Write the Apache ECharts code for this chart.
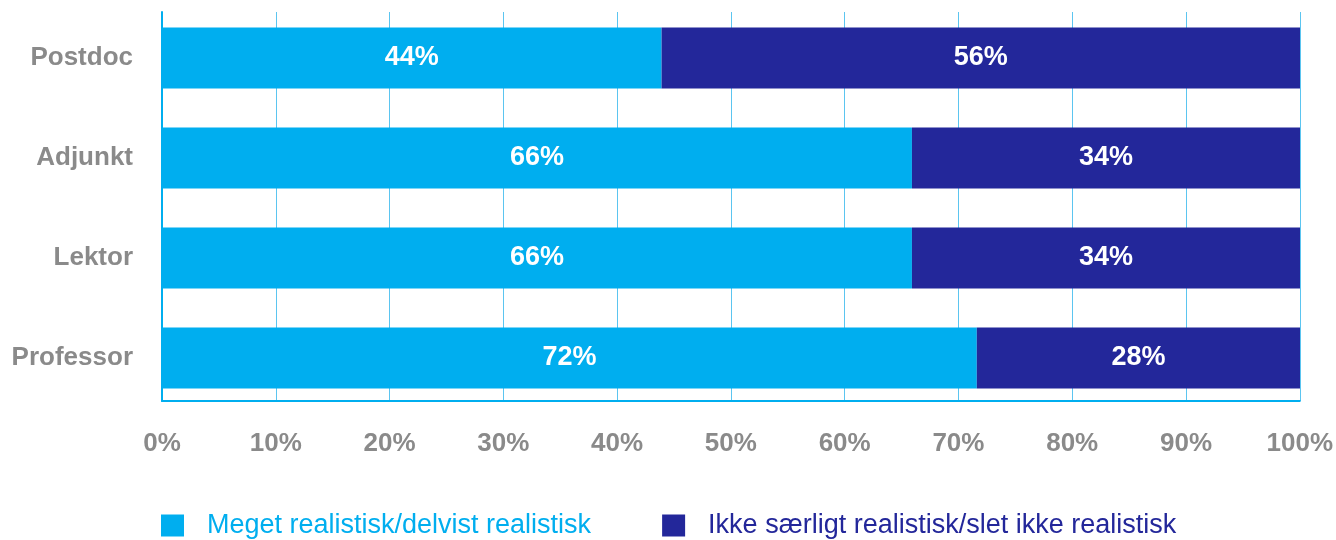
<!DOCTYPE html>
<html>
<head>
<meta charset="utf-8">
<script src="https://cdn.jsdelivr.net/npm/echarts@6/dist/echarts.min.js"></script>
<style>
  html, body { margin: 0; padding: 0; background: #fff; }
  #main { width: 1336px; height: 540px; }
</style>
</head>
<body>
<div id="main"></div>
<script>
  var categories = ['Postdoc', 'Adjunkt', 'Lektor', 'Professor'];
  var seriesNames = ['Meget realistisk/delvist realistisk', 'Ikke særligt realistisk/slet ikke realistisk'];
  var realistisk = [43.9, 65.9, 65.9, 71.6];
  var ikkeRealistisk = [56.1, 34.1, 34.1, 28.4];
  var xTicks = [0, 10, 20, 30, 40, 50, 60, 70, 80, 90, 100];

  var lightBlue = '#00aeef';
  var darkBlue = '#23279a';
  var gray = '#8a8a8a';
  var font = '"Liberation Sans", Arial, sans-serif';

  function pct(p) {
    return Math.round(p.value) + '%';
  }

  var myChart = echarts.init(document.getElementById('main'));
  var option = {
    textStyle: { fontFamily: font },
    animation: false,
    legend: {
      left: 161,
      top: 512,
      padding: 0,
      itemWidth: 23,
      itemHeight: 22,
      itemGap: 71,
      icon: 'rect',
      formatter: function (name) {
        return '{t|' + name + '}';
      },
      textStyle: {
        fontSize: 27,
        fontFamily: font,
        rich: { t: { fontSize: 27, fontFamily: font, padding: [0, 0, 0, 18] } }
      },
      data: [
        { name: seriesNames[0], textStyle: { color: lightBlue, rich: { t: { color: lightBlue } } } },
        { name: seriesNames[1], textStyle: { color: darkBlue, rich: { t: { color: darkBlue } } } }
      ]
    },
    grid: [
      // axis lines, split lines and % labels
      { left: 162, right: 36, top: 12, bottom: 139 },
      // bars
      { left: 162, right: 36, top: 8, height: 400 }
    ],
    xAxis: [
      {
        gridIndex: 0,
        type: 'value',
        min: xTicks[0],
        max: xTicks[xTicks.length - 1],
        interval: 10,
        axisLine: { show: true, lineStyle: { color: lightBlue, width: 2 } },
        axisTick: { show: false },
        splitLine: { show: true, lineStyle: { color: '#5bc5f0', width: 1 } },
        axisLabel: {
          margin: 30,
          formatter: '{value}%',
          color: gray,
          fontSize: 26,
          fontWeight: 'bold',
          fontFamily: font
        }
      },
      {
        gridIndex: 1,
        type: 'value',
        min: 0,
        max: 100,
        show: false
      }
    ],
    yAxis: [
      {
        gridIndex: 0,
        type: 'category',
        data: categories,
        axisLine: { show: true, lineStyle: { color: lightBlue, width: 2 } },
        axisTick: { show: false },
        axisLabel: { show: false },
        splitLine: { show: false }
      },
      {
        gridIndex: 1,
        type: 'category',
        inverse: true,
        data: categories,
        axisLine: { show: false },
        axisTick: { show: false },
        axisLabel: {
          margin: 29,
          color: gray,
          fontSize: 26,
          fontWeight: 'bold',
          fontFamily: font,
          padding: [4, 0, 0, 0]
        }
      }
    ],
    series: [
      {
        name: seriesNames[0],
        type: 'bar',
        stack: 'total',
        xAxisIndex: 1,
        yAxisIndex: 1,
        barWidth: 61,
        itemStyle: { color: lightBlue },
        label: {
          show: true,
          position: 'inside',
          formatter: pct,
          color: '#fff',
          fontSize: 27,
          fontWeight: 'bold',
          fontFamily: font
        },
        data: realistisk
      },
      {
        name: seriesNames[1],
        type: 'bar',
        stack: 'total',
        xAxisIndex: 1,
        yAxisIndex: 1,
        barWidth: 61,
        itemStyle: { color: darkBlue },
        label: {
          show: true,
          position: 'inside',
          formatter: pct,
          color: '#fff',
          fontSize: 27,
          fontWeight: 'bold',
          fontFamily: font
        },
        data: ikkeRealistisk
      }
    ]
  };
  myChart.setOption(option);
</script>
</body>
</html>
